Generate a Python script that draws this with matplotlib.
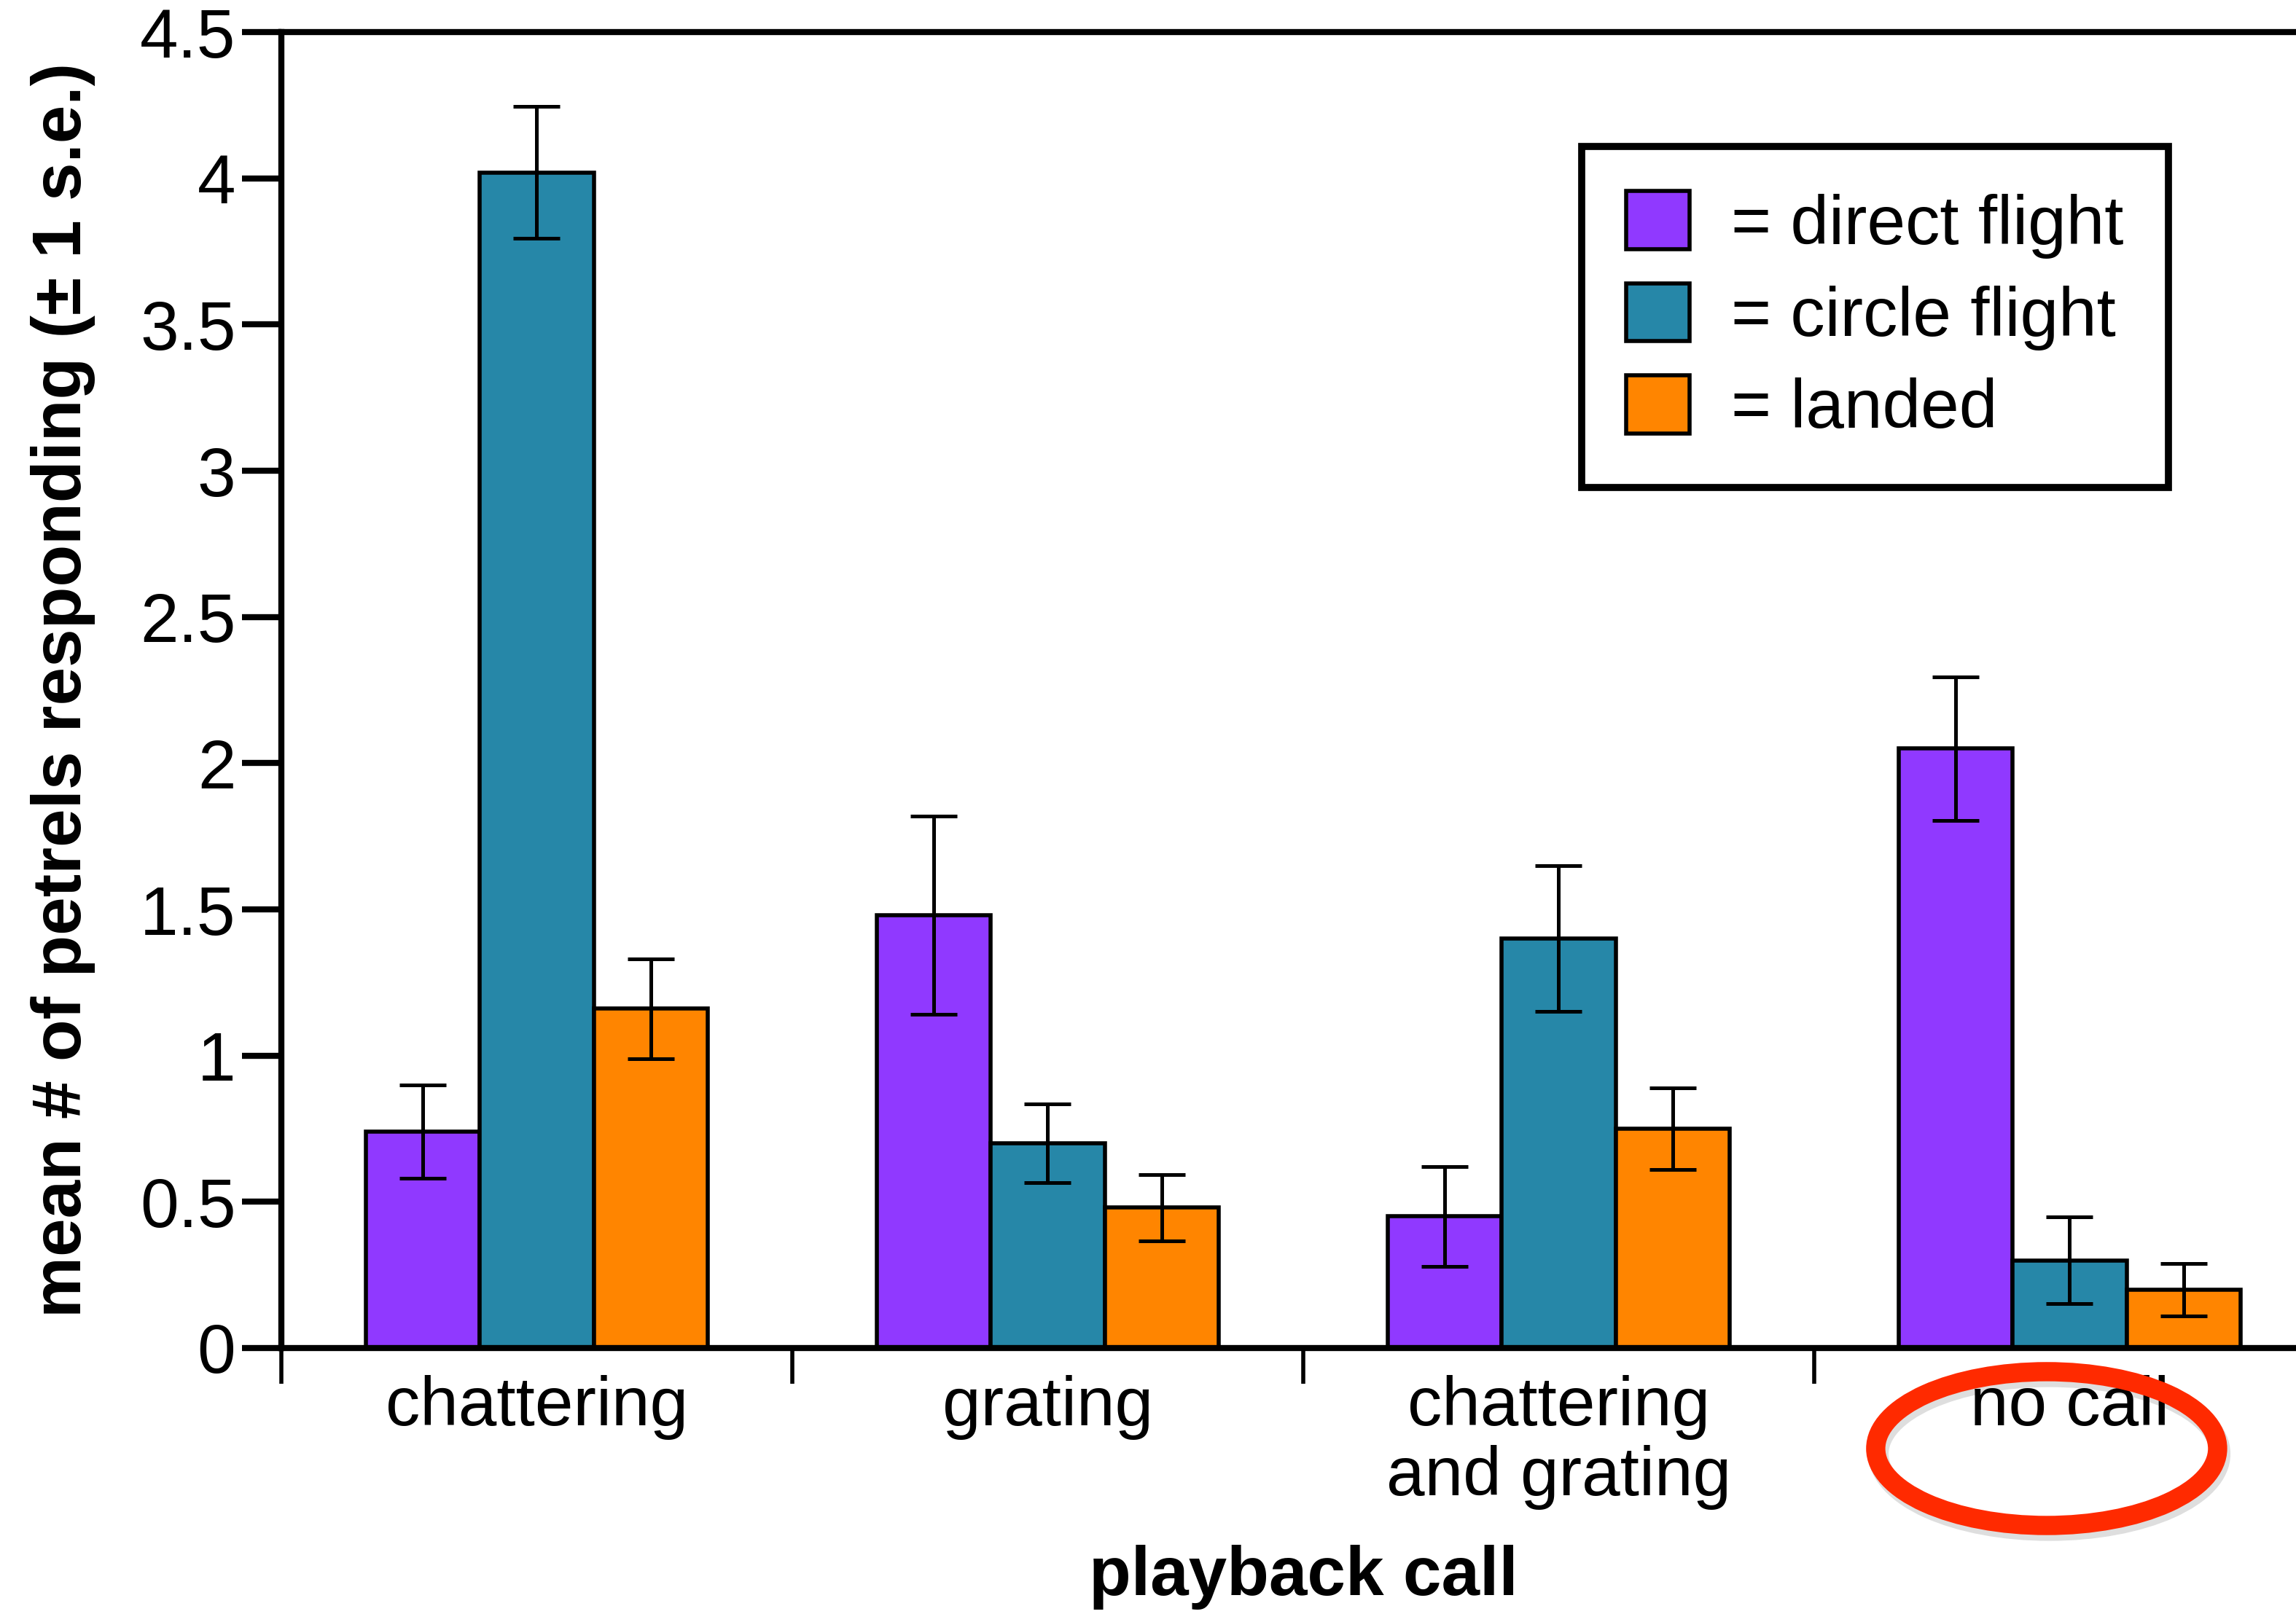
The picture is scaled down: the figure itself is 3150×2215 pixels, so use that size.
import matplotlib
matplotlib.use("Agg")
import matplotlib.pyplot as plt
import numpy as np
from matplotlib.patches import Ellipse

plt.rcParams["font.family"] = ["Liberation Sans", "DejaVu Sans"]

# data
CALLS = ["chattering", "grating", "chattering\nand grating", "no call"]
RESPONSES = ["= direct flight", "= circle flight", "= landed"]
DIRECT = [0.74, 1.48, 0.45, 2.05]
DIRECT_SE = [0.16, 0.34, 0.17, 0.245]
CIRCLE = [4.02, 0.70, 1.40, 0.30]
CIRCLE_SE = [0.225, 0.135, 0.25, 0.148]
LANDED = [1.16, 0.48, 0.75, 0.20]
LANDED_SE = [0.17, 0.113, 0.14, 0.09]
Y_TICKS = [0, 0.5, 1, 1.5, 2, 2.5, 3, 3.5, 4, 4.5]
Y_TICK_LABELS = ["0", "0.5", "1", "1.5", "2", "2.5", "3", "3.5", "4", "4.5"]

COLORS = ["#9039FF", "#2687A8", "#FF8500"]
RED = "#FF2A00"

FS = 68
BAR_W = 0.223
AXIS_LW = 6.0


def main():
    fig = plt.figure(figsize=(31.5, 22.15), dpi=100)
    # axes runs past the right edge of the figure, as in the reference crop
    ax = fig.add_axes([0.1225, 0.1648, 0.8902, 0.8153])

    centers = np.arange(len(CALLS)) + 0.5
    series = [(DIRECT, DIRECT_SE), (CIRCLE, CIRCLE_SE), (LANDED, LANDED_SE)]
    bars = []
    for i, (vals, se) in enumerate(series):
        x = centers + (i - 1) * BAR_W
        b = ax.bar(x, vals, width=BAR_W, color=COLORS[i], edgecolor="black",
                   linewidth=4.0, zorder=2)
        ax.errorbar(x, vals, yerr=se, fmt="none", ecolor="black",
                    elinewidth=3.6, capsize=23, capthick=3.6, zorder=3)
        bars.append(b)

    ax.set_xlim(0, len(CALLS))
    ax.set_ylim(0, 4.5)

    ax.spines["right"].set_visible(False)
    for side in ["left", "top", "bottom"]:
        ax.spines[side].set_linewidth(AXIS_LW)
        ax.spines[side].set_color("black")

    ax.set_yticks(Y_TICKS)
    ax.set_yticklabels(Y_TICK_LABELS)
    ax.tick_params(axis="y", direction="out", length=39, width=AXIS_LW,
                   labelsize=FS, pad=6)

    # group separators as major ticks, category names on minor ticks
    ax.set_xticks(np.arange(len(CALLS) + 1))
    ax.set_xticklabels([])
    ax.set_xticks(centers, minor=True)
    ax.set_xticklabels(CALLS, minor=True, linespacing=1.1)
    ax.tick_params(axis="x", which="major", direction="out", length=35,
                   width=4.0)
    ax.tick_params(axis="x", which="minor", length=0, labelsize=FS, pad=27)

    ax.set_ylabel("mean # of petrels responding (± 1 s.e.)", fontsize=FS,
                  fontweight="bold", labelpad=44)
    ax.set_xlabel("playback call", fontsize=FS, fontweight="bold",
                  labelpad=34)

    leg = fig.legend(
        handles=bars,
        labels=RESPONSES,
        loc="upper left",
        bbox_to_anchor=(0.6889, 0.9093),
        borderaxespad=0,
        frameon=True,
        fancybox=False,
        framealpha=1,
        edgecolor="black",
        fontsize=FS,
        borderpad=0.65,
        handlelength=0.92,
        handleheight=0.92,
        handletextpad=0.6,
        labelspacing=0.36,
    )
    leg.get_frame().set_linewidth(7.0)

    # red ring around "no call", with a soft shadow
    shadow = Ellipse((0.8926, 0.0992), 0.1489, 0.0953, transform=fig.transFigure,
                     fill=False, edgecolor="black", alpha=0.13, linewidth=20)
    ring = Ellipse((0.8914, 0.1025), 0.1489, 0.0953, transform=fig.transFigure,
                   fill=False, edgecolor=RED, linewidth=19)
    fig.add_artist(shadow)
    fig.add_artist(ring)

    fig.savefig("out.png", dpi=100)
    plt.close(fig)


if __name__ == "__main__":
    main()
